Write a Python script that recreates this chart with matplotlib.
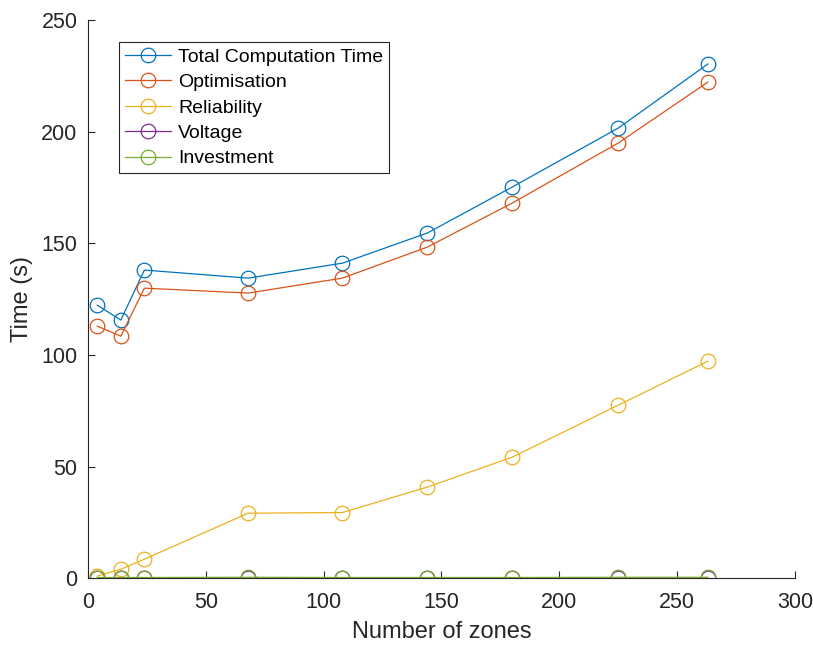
import numpy as np
import matplotlib.pyplot as plt

plt.rcParams['font.family'] = ['Liberation Sans', 'DejaVu Sans']

zones = [4, 14, 24, 68, 108, 144, 180, 225, 263]
total_time = [122.3, 115.6, 138.0, 134.4, 141.1, 154.6, 175.2, 201.6, 230.3]
optimisation = [112.9, 108.4, 129.9, 127.7, 134.4, 148.3, 168.0, 194.9, 222.2]
reliability = [0.9, 4.0, 8.5, 29.1, 29.4, 40.8, 54.2, 77.5, 97.2]
voltage = [0.1, 0.1, 0.1, 0.1, 0.1, 0.1, 0.1, 0.1, 0.1]
investment = [0.3, 0.3, 0.3, 0.4, 0.3, 0.3, 0.3, 0.4, 0.4]

series = [
    ("Total Computation Time", total_time, "#0072BD"),
    ("Optimisation", optimisation, "#D95319"),
    ("Reliability", reliability, "#EDB120"),
    ("Voltage", voltage, "#7E2F8E"),
    ("Investment", investment, "#77AC30"),
]

fig = plt.figure(figsize=(8.13, 6.46), dpi=100)
ax = fig.add_axes([0.108, 0.105, 0.870, 0.864])

for name, vals, col in series:
    ax.plot(zones, vals, color=col, linewidth=0.9, marker='o', markersize=10.5,
            markerfacecolor='none', markeredgewidth=0.9, label=name)

ax.set_xlim(0, 300)
ax.set_ylim(0, 250)
ax.set_xticks(np.arange(0, 301, 50))
ax.set_yticks(np.arange(0, 251, 50))
ax.spines['top'].set_visible(False)
ax.spines['right'].set_visible(False)
for s in ('left', 'bottom'):
    ax.spines[s].set_color('#262626')
    ax.spines[s].set_linewidth(0.8)
ax.tick_params(direction='in', length=5, width=0.8, colors='#262626',
               labelsize=15.5)
ax.tick_params(axis='x', pad=10)
ax.tick_params(axis='y', pad=7.5)

ax.set_xlabel("Number of zones", fontsize=17, color='#262626', labelpad=6)
ax.set_ylabel("Time (s)", fontsize=17, color='#262626', labelpad=6)

leg = ax.legend(loc='upper left', bbox_to_anchor=(0.044, 0.96), fontsize=14,
                fancybox=False, edgecolor='#262626', framealpha=1,
                handlelength=2.4, borderpad=0.3, labelspacing=0.4,
                handletextpad=0.35, borderaxespad=0)
leg.get_frame().set_linewidth(0.8)

fig.savefig("out.png", dpi=100)
